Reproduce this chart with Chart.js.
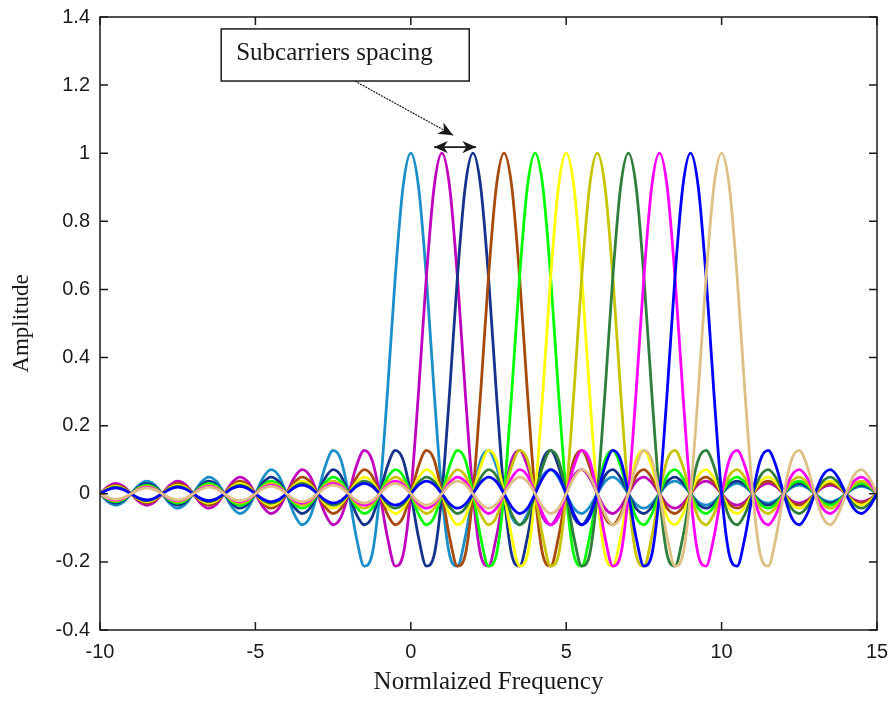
<!DOCTYPE html>
<html lang="en">
<head>
<meta charset="UTF-8">
<title>OFDM Subcarriers</title>
<script src="https://cdn.jsdelivr.net/npm/chart.js"></script>
<style>
  body { margin: 0; background: #fff; }
  #wrap { width: 894px; height: 702px; }
</style>
</head>
<body>
<div id="wrap"><canvas id="ofdmChart" width="894" height="702"></canvas></div>
<script>
// subcarrier centre frequencies (normalized)
const carrierCenters = [0, 1, 2, 3, 4, 5, 6, 7, 8, 9, 10];

// amplitude of one subcarrier vs. distance from its centre, sampled every 0.25
const shapeStep = 0.25;
const carrierShape = [
  1, 0.9003, 0.6366, 0.3001, 0, -0.1801, -0.2122, -0.1286,
  0, 0.1000, 0.1273, 0.0818, 0, -0.0693, -0.0909, -0.0600,
  0, 0.0530, 0.0707, 0.0474, 0, -0.0429, -0.0579, -0.0391,
  0, 0.0360, 0.0490, 0.0333, 0, -0.0310, -0.0424, -0.0290,
  0, 0.0273, 0.0374, 0.0257, 0, -0.0243, -0.0335, -0.0231,
  0, 0.0220, 0.0303, 0.0209, 0, -0.0200, -0.0277, -0.0192,
  0, 0.0184, 0.0255, 0.0177, 0, -0.0170, -0.0236, -0.0164,
  0, 0.0158, 0.0220, 0.0153, 0, -0.0148, -0.0205, -0.0143,
  0, 0.0139, 0.0193, 0.0134, 0, -0.0130, -0.0182, -0.0127,
  0, 0.0123, 0.0172, 0.0120, 0, -0.0117, -0.0163, -0.0114,
  0
];

const xTicks = [-10, -5, 0, 5, 10, 15];
const yTicks = [-0.4, -0.2, 0, 0.2, 0.4, 0.6, 0.8, 1, 1.2, 1.4];
const yTickLabels = ['-0.4', '-0.2', '0', '0.2', '0.4', '0.6', '0.8', '1', '1.2', '1.4'];

const lineColors = [
  '#1b8fc9', '#bf00bf', '#14338c', '#a84a0c', '#00ff00', '#ffff00',
  '#c8c400', '#2f7f3c', '#ff00ff', '#0000ff', '#dfc084'
];

const xMin = -10, xMax = 15;
const inkColor = '#1a1a1a';

// one line per subcarrier: the shape shifted to its centre
const datasets = carrierCenters.map((c, k) => {
  const pts = [];
  const n = Math.round((xMax - xMin) / shapeStep);
  for (let i = 0; i <= n; i++) {
    const x = xMin + i * shapeStep;
    const idx = Math.round(Math.abs(x - c) / shapeStep);
    pts.push({ x: x, y: carrierShape[idx] });
  }
  return {
    data: pts,
    borderColor: lineColors[k],
    borderWidth: 2.8,
    pointRadius: 0,
    fill: false,
    cubicInterpolationMode: 'monotone',
    order: carrierCenters.length - k   // later carriers on top
  };
});

// white background, axes box and inward tick marks on all four sides
const framePlugin = {
  id: 'frame',
  beforeDraw(chart) {
    const ctx = chart.ctx;
    ctx.save();
    ctx.fillStyle = '#fff';
    ctx.fillRect(0, 0, chart.width, chart.height);
    ctx.restore();
  },
  afterDatasetsDraw(chart) {
    const { ctx, chartArea: a, scales: { x, y } } = chart;
    const len = 8;
    ctx.save();
    ctx.strokeStyle = inkColor;
    ctx.lineWidth = 1.5;
    ctx.strokeRect(a.left, a.top, a.right - a.left, a.bottom - a.top);
    ctx.beginPath();
    xTicks.forEach(v => {
      const px = x.getPixelForValue(v);
      ctx.moveTo(px, a.bottom); ctx.lineTo(px, a.bottom - len);
      ctx.moveTo(px, a.top); ctx.lineTo(px, a.top + len);
    });
    yTicks.forEach(v => {
      const py = y.getPixelForValue(v);
      ctx.moveTo(a.left, py); ctx.lineTo(a.left + len, py);
      ctx.moveTo(a.right, py); ctx.lineTo(a.right - len, py);
    });
    ctx.stroke();
    ctx.restore();
  }
};

function arrowHead(ctx, x0, y0, x1, y1, size) {
  const ang = Math.atan2(y1 - y0, x1 - x0);
  ctx.beginPath();
  ctx.moveTo(x1, y1);
  ctx.lineTo(x1 - size * Math.cos(ang - 0.42), y1 - size * Math.sin(ang - 0.42));
  ctx.lineTo(x1 - size * 0.65 * Math.cos(ang), y1 - size * 0.65 * Math.sin(ang));
  ctx.lineTo(x1 - size * Math.cos(ang + 0.42), y1 - size * Math.sin(ang + 0.42));
  ctx.closePath();
  ctx.fill();
}

// "Subcarriers spacing" label with pointer and the double arrow between carriers
const notePlugin = {
  id: 'note',
  afterDraw(chart) {
    const { ctx, scales: { x, y } } = chart;
    ctx.save();
    const bx0 = x.getPixelForValue(-6.1), bx1 = x.getPixelForValue(1.88);
    const by0 = y.getPixelForValue(1.365), by1 = y.getPixelForValue(1.212);
    ctx.fillStyle = '#fff';
    ctx.fillRect(bx0, by0, bx1 - bx0, by1 - by0);
    ctx.strokeStyle = inkColor;
    ctx.lineWidth = 1.5;
    ctx.strokeRect(bx0, by0, bx1 - bx0, by1 - by0);
    ctx.fillStyle = inkColor;
    ctx.font = '25px "Liberation Serif"';
    ctx.textBaseline = 'middle';
    ctx.fillText('Subcarriers spacing', bx0 + 15, (by0 + by1) / 2 - 2);

    // pointer from the box
    const px0 = x.getPixelForValue(-1.8), py0 = by1;
    const px1 = x.getPixelForValue(1.36), py1 = y.getPixelForValue(1.053);
    ctx.lineWidth = 1.2;
    ctx.setLineDash([2, 1]);
    ctx.beginPath();
    ctx.moveTo(px0, py0); ctx.lineTo(px1, py1);
    ctx.stroke();
    ctx.setLineDash([]);
    arrowHead(ctx, px0, py0, px1, py1, 16);

    // spacing arrow
    const sx0 = x.getPixelForValue(0.75), sx1 = x.getPixelForValue(2.1);
    const sy = y.getPixelForValue(1.018);
    ctx.lineWidth = 1.8;
    ctx.beginPath();
    ctx.moveTo(sx0, sy); ctx.lineTo(sx1, sy);
    ctx.stroke();
    arrowHead(ctx, sx1, sy, sx0, sy, 15);
    arrowHead(ctx, sx0, sy, sx1, sy, 15);
    ctx.restore();
  }
};

const tickFont = { family: '"Liberation Sans", Arial, sans-serif', size: 20 };

new Chart(document.getElementById('ofdmChart'), {
  type: 'line',
  data: { datasets: datasets },
  options: {
    responsive: false,
    animation: false,
    events: [],
    layout: { padding: { top: 17, right: 17, left: 0, bottom: 0 } },
    plugins: {
      legend: { display: false },
      tooltip: { enabled: false }
    },
    scales: {
      x: {
        type: 'linear',
        min: xMin,
        max: xMax,
        afterBuildTicks: s => { s.ticks = xTicks.map(v => ({ value: v })); },
        afterFit: s => { s.height = 72; s.paddingLeft = 0; s.paddingRight = 0; },
        grid: { display: false, drawTicks: false },
        border: { display: false },
        ticks: {
          autoSkip: false,
          maxRotation: 0,
          padding: 10,
          color: inkColor,
          font: tickFont,
          callback: v => String(v)
        },
        title: {
          display: true,
          text: 'Normlaized Frequency',
          color: inkColor,
          font: { family: '"Liberation Serif", serif', size: 25 },
          padding: { top: 0, bottom: 5 }
        }
      },
      y: {
        type: 'linear',
        min: -0.4,
        max: 1.4,
        afterBuildTicks: s => { s.ticks = yTicks.map(v => ({ value: v })); },
        afterFit: s => { s.width = 100; s.paddingTop = 0; s.paddingBottom = 0; },
        grid: { display: false, drawTicks: false },
        border: { display: false },
        ticks: {
          autoSkip: false,
          padding: 10,
          color: inkColor,
          font: tickFont,
          callback: v => yTickLabels[yTicks.indexOf(v)]
        },
        title: {
          display: true,
          text: 'Amplitude',
          color: inkColor,
          font: { family: '"Liberation Serif", serif', size: 23 },
          padding: { top: 8, bottom: 0 }
        }
      }
    }
  },
  plugins: [framePlugin, notePlugin]
});
</script>
</body>
</html>
